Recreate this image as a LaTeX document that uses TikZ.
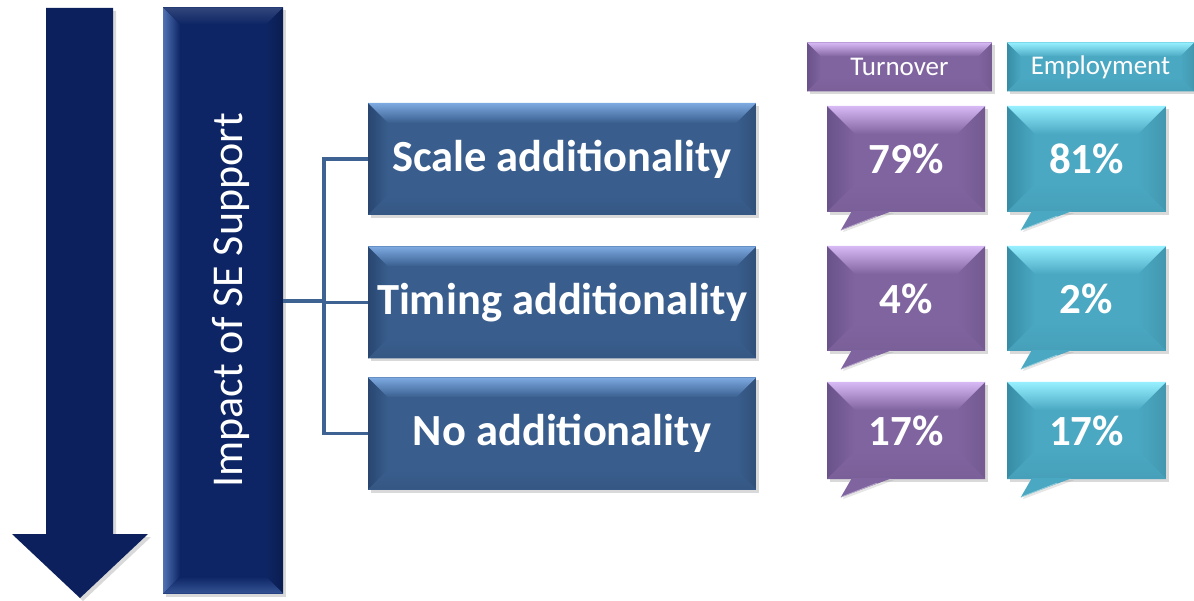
\documentclass[tikz,border=0pt]{standalone}
\usepackage{fontspec}
\setmainfont{Carlito}
\usetikzlibrary{shadows,calc}

\definecolor{navy}{RGB}{11,32,92}
\definecolor{navybox}{RGB}{13,37,100}
\definecolor{navylight}{RGB}{80,115,180}
\definecolor{steel}{RGB}{57,94,142}
\definecolor{steellight}{RGB}{125,170,225}
\definecolor{steeldark}{RGB}{40,70,112}
\definecolor{violet}{RGB}{128,100,160}
\definecolor{violetlight}{RGB}{215,185,245}
\definecolor{violetdark}{RGB}{105,82,138}
\definecolor{aqua}{RGB}{74,168,194}
\definecolor{aqualight}{RGB}{150,240,255}
\definecolor{aquadark}{RGB}{55,140,165}
\definecolor{linkblue}{RGB}{62,98,145}

\tikzset{
  % bevelled box: main, top face, left face, right face, bottom face, depth
  bevel/.style n args={6}{
    fill=#1, inner sep=0pt,
    drop shadow={opacity=0.3, shadow xshift=3pt, shadow yshift=-3pt},
    path picture={
      \path (path picture bounding box.north west) coordinate (pNW)
            (path picture bounding box.north east) coordinate (pNE)
            (path picture bounding box.south west) coordinate (pSW)
            (path picture bounding box.south east) coordinate (pSE);
      \shade[left color=#3, right color=#1]
        (pNW) -- ([shift={(#6,-#6)}]pNW) -- ([shift={(#6,#6)}]pSW) -- (pSW) -- cycle;
      \shade[left color=#1, right color=#4]
        (pNE) -- (pSE) -- ([shift={(-#6,#6)}]pSE) -- ([shift={(-#6,-#6)}]pNE) -- cycle;
      \shade[top color=#1, bottom color=#5]
        (pSW) -- ([shift={(#6,#6)}]pSW) -- ([shift={(-#6,#6)}]pSE) -- (pSE) -- cycle;
      \shade[top color=#2, bottom color=#1]
        (pNW) -- (pNE) -- ([shift={(-#6,-#6)}]pNE) -- ([shift={(#6,-#6)}]pNW) -- cycle;
    }
  },
  stepbox/.style={bevel={steel}{steellight}{steeldark}{steel!85!black}{steel!92!black}{20pt},
    minimum width=388pt, minimum height=112pt, text=white,
    font=\fontsize{44.5}{50}\selectfont\bfseries},
  violetbox/.style={bevel={violet}{violetlight}{violetdark}{violet!90!black}{violet!95!black}{#1}},
  aquabox/.style={bevel={aqua}{aqualight}{aquadark}{aqua!90!black}{aqua!95!black}{#1}},
  headbox/.style={minimum height=49pt, text=white, font=\fontsize{27}{32}\selectfont},
  valbox/.style={text=white, font=\fontsize{43}{50}\selectfont\bfseries},
  link/.style={draw=linkblue, line width=3.5pt},
}

% speech-bubble tail under a value box
\newcommand{\bubbletail}[2]{%
  \fill[#2, drop shadow={opacity=0.2, shadow xshift=2pt, shadow yshift=-2pt}]
    ([xshift=25pt,yshift=1pt]#1.south west) -- ([xshift=14pt,yshift=-18pt]#1.south west)
    -- ([xshift=65pt,yshift=1pt]#1.south west) -- cycle;
  \draw[#2!55!white, line width=0.8pt]
    ([xshift=14pt,yshift=-18pt]#1.south west) -- ([xshift=50pt,yshift=-4pt]#1.south west);
}

\begin{document}
\begin{tikzpicture}[x=1pt, y=-1pt]
\useasboundingbox (0,0) rectangle (1194,601);

% downward arrow
\fill[navy, drop shadow={opacity=0.3, shadow xshift=3pt, shadow yshift=-3pt}]
  (46,8) -- (113,8) -- (113,534) -- (148,534) -- (80,598) -- (12,534) -- (46,534) -- cycle;

% vertical title bar
\node[bevel={navybox}{navybox!85!white}{navylight}{navybox!80!black}{navylight!60!navybox}{17pt},
      minimum width=120pt, minimum height=586pt] (impact) at (223,300.5) {};
\node[rotate=90, text=white, font=\fontsize{44}{50}\selectfont] (impacttext)
  at ([xshift=8pt]impact.center) {Impact of SE Support};

% categories
\node[stepbox] (scale)  at (562,159)   {Scale additionality};
\node[stepbox] (timing) at (562,302.5) {Timing additionality};
\node[stepbox] (noadd)  at (562,433.5) {No additionality};

% connectors
\coordinate (hub) at (324,301);
\draw[link] (impact.east |- hub) -- (hub);
\draw[link] (scale.west) -| (hub |- noadd.west) -- (noadd.west);
\draw[link] (hub |- timing.west) -- (timing.west);

% column headers
\node[violetbox=14pt, headbox, minimum width=185pt] (turnover)   at (899.5,67)  {Turnover};
\node[aquabox=14pt,   headbox, minimum width=187pt] (employment) at (1100.5,67) {Employment};

% value callouts
\node[violetbox=28pt, valbox, minimum width=158pt, minimum height=106pt] (t1) at (906,159)    {79\%};
\node[violetbox=28pt, valbox, minimum width=158pt, minimum height=105pt] (t2) at (906,298.5)  {4\%};
\node[violetbox=28pt, valbox, minimum width=158pt, minimum height=97pt]  (t3) at (906,430.5)  {17\%};
\node[aquabox=28pt,   valbox, minimum width=159pt, minimum height=106pt] (e1) at (1086.5,159)   {81\%};
\node[aquabox=28pt,   valbox, minimum width=159pt, minimum height=105pt] (e2) at (1086.5,298.5) {2\%};
\node[aquabox=28pt,   valbox, minimum width=159pt, minimum height=97pt]  (e3) at (1086.5,430.5) {17\%};

\bubbletail{t1}{violet}\bubbletail{t2}{violet}\bubbletail{t3}{violet}
\bubbletail{e1}{aqua}\bubbletail{e2}{aqua}\bubbletail{e3}{aqua}
\end{tikzpicture}
\end{document}
